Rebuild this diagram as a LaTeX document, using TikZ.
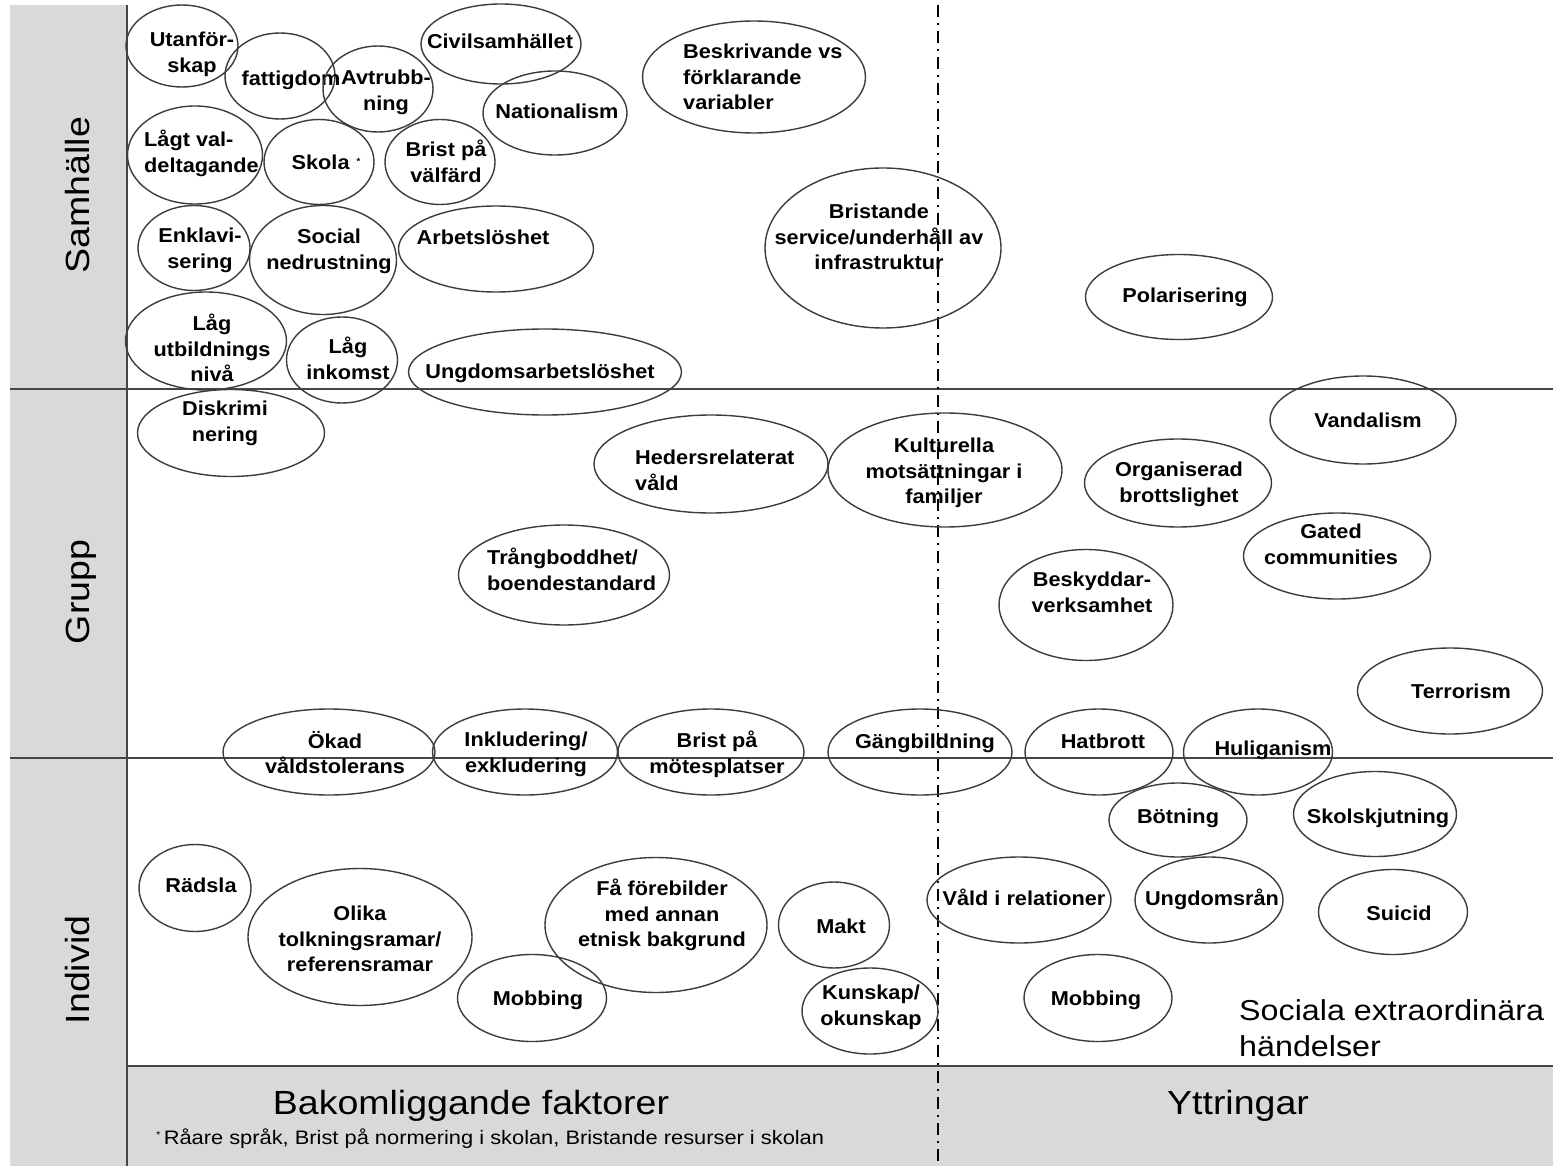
\documentclass[tikz,border=0pt]{standalone}
\usepackage{fontspec}
\setmainfont{Liberation Sans}
\newfontfamily\bubfont[FakeStretch=1.08]{Liberation Sans}
\newfontfamily\labfont[FakeStretch=1.12]{Liberation Sans}
\usetikzlibrary{shapes.geometric}
\definecolor{bandgray}{RGB}{217,217,217}
\definecolor{inkgray}{RGB}{60,60,60}
\definecolor{rulegray}{RGB}{70,70,70}
% name, cx, cy, width, height, tx, ty, text
\newcommand\bb[8]{%
  \node[bub,minimum width=#4pt,minimum height=#5pt] (#1) at (#2,#3) {};
  \node[txt] (#1-t) at (#6,#7) {#8};}
\newcommand\bbl[8]{%
  \node[bub,minimum width=#4pt,minimum height=#5pt] (#1) at (#2,#3) {};
  \node[txt,align=left,anchor=west] (#1-t) at (#6,#7) {#8};}
\begin{document}
\begin{tikzpicture}[x=1pt,y=-1pt,
  bub/.style={draw=inkgray,line width=1.4pt,ellipse,inner sep=0pt,outer sep=0pt},
  txt/.style={font=\bubfont\bfseries\fontsize{20.1}{25.5}\selectfont,align=center,
    inner sep=0pt,text=black,execute at begin node=\strut,execute at end node=\strut},
  lab/.style={font=\labfont\fontsize{33.5}{40}\selectfont,inner sep=0pt,text=black},
  rule/.style={draw=rulegray,line width=1.5pt},
  dashdot/.style={draw=black,line width=2pt,dash pattern=on 12pt off 6pt on 2pt off 6pt}]
\useasboundingbox (0,0) rectangle (1553,1166);
\fill[white] (0,0) rectangle (1553,1166);
% gray bands
\fill[bandgray] (10,5) rectangle (127,1166);
\fill[bandgray] (127,1066) rectangle (1553,1166);
% grid coordinates
\coordinate (hl1) at (10,389);  \coordinate (hr1) at (1553,389);
\coordinate (hl2) at (10,758);  \coordinate (hr2) at (1553,758);
\coordinate (hl3) at (127,1066); \coordinate (hr3) at (1553,1066);
\coordinate (vt) at (127,5);    \coordinate (vb) at (127,1166);
\coordinate (dt) at (938,5);    \coordinate (db) at (938,1166);
\draw[rule] (hl1) -- (hr1);
\draw[rule] (hl2) -- (hr2);
\draw[rule] (hl3) -- (hr3);
\draw[rule] (vt) -- (vb);
\draw[dashdot] (dt) -- (db);
% row labels
\node[lab,rotate=90,anchor=base] (lsam) at (89,195) {Samhälle};
\node[lab,rotate=90,anchor=base] (lgru) at (89,592) {Grupp};
\node[lab,rotate=90,anchor=base] (lind) at (89,970) {Individ};
% column labels
\node[lab,anchor=base] (lbak) at (471,1114) {Bakomliggande faktorer};
\node[lab,anchor=base] (lytt) at (1238,1114) {Yttringar};
\node[font=\labfont\fontsize{19.5}{22}\selectfont,inner sep=0pt,anchor=base west] (fnote) at (156,1144)
  {\raisebox{6pt}{\fontsize{10}{10}\selectfont *}\,Råare språk, Brist på normering i skolan, Bristande resurser i skolan};
\node[font=\labfont\fontsize{28.8}{36}\selectfont,inner sep=0pt,align=left,anchor=west,
  execute at begin node=\strut,execute at end node=\strut] (soc-ex) at (1239,1033)
  {Sociala extraordinära\\händelser};
% Samhälle
\bb{uta}{182}{46}{112}{82}{192}{56}{Utanför-\\skap}
\bb{fat}{280}{76}{110}{86}{291}{80}{fattigdom}
\bb{avt}{378}{89}{110}{86}{386}{94}{Avtrubb-\\ning}
\bb{civ}{501}{44}{160}{80}{500}{43}{Civilsamhället}
\bb{nat}{555}{113}{144}{84}{557}{113}{Nationalism}
\bbl{lag}{195}{155}{135}{98}{144}{155}{Lågt val-\\deltagande}
\bb{sko}{319}{162}{110}{85}{326}{164}{Skola\hspace{7pt}\raisebox{5pt}{\fontsize{9}{9}\selectfont *}}
\bb{bri}{440}{162}{110}{85}{446}{165}{Brist på\\välfärd}
\bb{enk}{194}{248}{112}{85}{200}{252}{Enklavi-\\sering}
\bb{soc}{323}{260}{147}{109}{329}{253}{Social\\nedrustning}
\bb{arb}{496}{249}{195}{86}{483}{239}{Arbetslöshet}
\bb{lut}{206}{341}{161}{98}{212}{352}{Låg\\utbildnings\\nivå}
\bb{lin}{342}{360}{111}{86}{348}{362}{Låg\\inkomst}
\bb{ung}{545}{372}{273}{86}{540}{373}{Ungdomsarbetslöshet}
\bbl{bes}{754}{77}{223}{112}{683}{81}{Beskrivande vs\\förklarande\\variabler}
\bb{bsi}{883}{248}{236}{160}{879}{241}{Bristande\\service/underhåll av\\infrastruktur}
\bb{pol}{1179}{297}{187}{85}{1185}{297}{Polarisering}
% Grupp
\bb{dis}{231}{433}{187}{87}{225}{425}{Diskrimi\\nering}
\bbl{hed}{711}{464}{234}{98}{635}{474}{Hedersrelaterat\\våld}
\bb{kul}{945}{470}{234}{114}{944}{475}{Kulturella\\motsättningar i\\familjer}
\bb{org}{1178}{483}{187}{88}{1179}{486}{Organiserad\\brottslighet}
\bb{van}{1363}{420}{186}{88}{1368}{422}{Vandalism}
\bb{gat}{1337}{556}{187}{86}{1331}{548}{Gated\\communities}
\bbl{trg}{564}{575}{211}{100}{487}{573}{Trångboddhet/\\boendestandard}
\bb{bsk}{1086}{605}{174}{111}{1092}{596}{Beskyddar-\\verksamhet}
\bb{ter}{1450}{691}{185}{86}{1461}{693}{Terrorism}
\bb{oka}{329}{752}{212}{86}{335}{756}{Ökad\\våldstolerans}
\bb{ink}{525}{752}{185}{86}{526}{756}{Inkludering/\\exkludering}
\bb{bpm}{711}{752}{186}{86}{717}{756}{Brist på\\mötesplatser}
\bb{gan}{920}{752}{184}{86}{925}{743}{Gängbildning}
\bb{hat}{1099}{752}{148}{86}{1103}{743}{Hatbrott}
\bb{hul}{1258}{752}{149}{86}{1273}{750}{Huliganism}
% Individ
\bb{bot}{1178}{820}{138}{74}{1178}{818}{Bötning}
\bb{sks}{1375}{814}{163}{85}{1378}{818}{Skolskjutning}
\bb{vir}{1019}{900}{184}{86}{1024}{900}{Våld i relationer}
\bb{ura}{1209}{900}{148}{86}{1212}{900}{Ungdomsrån}
\bb{sui}{1393}{912}{149}{85}{1399}{915}{Suicid}
\bb{mak}{834}{925}{111}{86}{841}{928}{Makt}
\bb{kun}{870}{1011}{136}{86}{871}{1009}{Kunskap/\\okunskap}
\bb{mob2}{1098}{998}{148}{87}{1096}{1000}{Mobbing}
\bb{rad}{195}{888}{112}{87}{201}{887}{Rädsla}
\bb{oli}{360}{937}{224}{137}{360}{943}{Olika\\tolkningsramar/\\referensramar}
\bb{fa}{656}{925}{222}{135}{662}{917}{Få förebilder\\med annan\\etnisk bakgrund}
\bb{mob1}{532}{998}{149}{87}{538}{1000}{Mobbing}
\end{tikzpicture}
\end{document}
